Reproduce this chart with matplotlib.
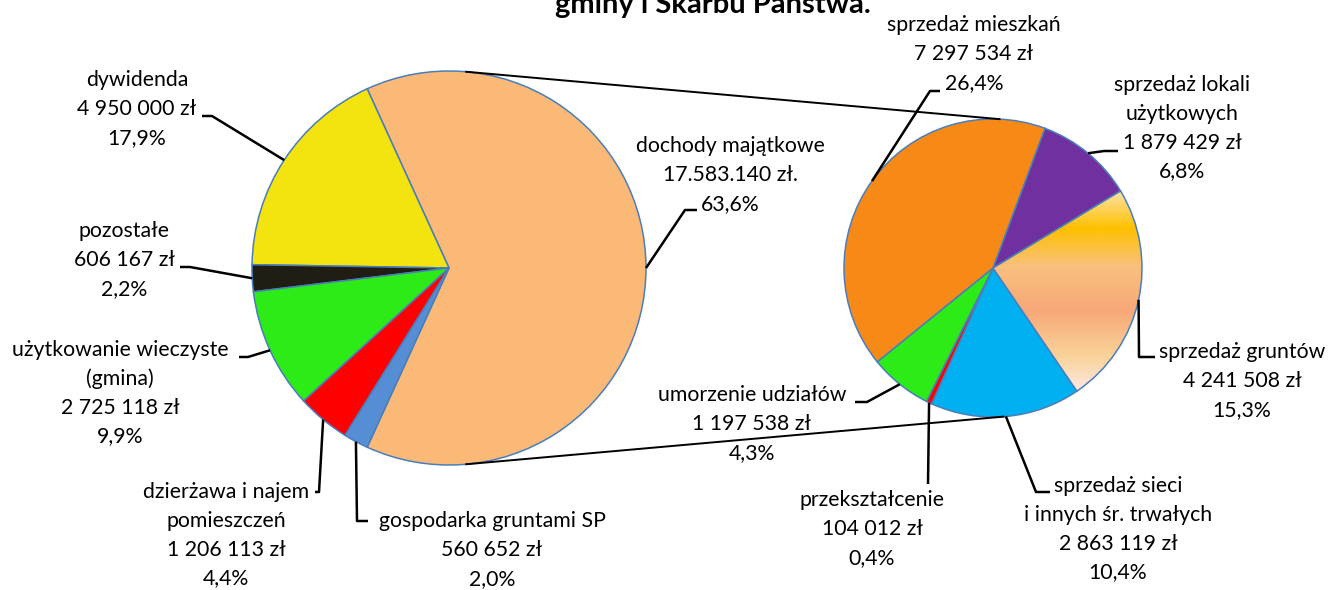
import numpy as np
import matplotlib
matplotlib.use('Agg')
import matplotlib.pyplot as plt
from matplotlib.colors import LinearSegmentedColormap

# ---------------- data ----------------
title_text = "gminy i Skarbu Państwa."

main_labels = ["dochody majątkowe", "dywidenda", "pozostałe",
               "użytkowanie wieczyste\n(gmina)", "dzierżawa i najem\npomieszczeń",
               "gospodarka gruntami SP"]
main_values = [17583140, 4950000, 606167, 2725118, 1206113, 560652]
main_value_text = ["17.583.140 zł.", "4 950 000 zł", "606 167 zł",
                   "2 725 118 zł", "1 206 113 zł", "560 652 zł"]
main_pct_text = ["63,6%", "17,9%", "2,2%", "9,9%", "4,4%", "2,0%"]
main_colors = ["#FBB978", "#F3E30F", "#201D12", "#2DEB17", "#FF0000", "#558ED5"]

sub_labels = ["sprzedaż lokali\nużytkowych", "sprzedaż gruntów",
              "sprzedaż sieci\ni innych śr. trwałych", "przekształcenie",
              "umorzenie udziałów", "sprzedaż mieszkań"]
sub_values = [1879429, 4241508, 2863119, 104012, 1197538, 7297534]
sub_value_text = ["1 879 429 zł", "4 241 508 zł", "2 863 119 zł",
                  "104 012 zł", "1 197 538 zł", "7 297 534 zł"]
sub_pct_text = ["6,8%", "15,3%", "10,4%", "0,4%", "4,3%", "26,4%"]
sub_colors = ["#7030A0", None, "#00B0F0", "#FF0000", "#2DEB17", "#F78A17"]

# gradient fill of "sprzedaż gruntów" (position from top, colour)
grad_stops = [(0.0, "#FCE3AA"), (0.19, "#FFC000"), (0.38, "#F9C07E"),
              (0.6, "#F7A878"), (0.83, "#FAD39A"), (1.0, "#FDE8E4")]

# ---------------- layout (pixel coords, y from top) ----------------
W, H = 1329, 590
FONT = "Lato"
FS = 15.3
LINE = 28.8

main_center = (449, 268)
main_r = 197
sub_center = (993, 268)
sub_r = 149
sub_start = 69.6

# label: (center x, first line center y, leader elbow, leader end)
main_layout = [
    (730, 146, (685, 210), (697, 210)),
    (137, 80, (212, 116), (202, 116)),
    (124, 231, (190, 267), (180, 267)),
    (120, 350, (248, 357), (239, 357)),
    (226, 492, (319, 492), (315, 492)),
    (492, 521, (357, 521), (368, 521)),
]
sub_layout = [
    (1182, 85, (1104, 151), (1118, 151)),
    (1242, 352, (1139, 357), (1155, 357)),
    (1118, 486, (1036, 492), (1050, 492)),
    (872, 500, (928, 484), (928, 484)),
    (752, 395, (867, 402), (855, 402)),
    (974, 25, (930, 91), (940, 91)),
]

def Y(y):
    return H - y

fig = plt.figure(figsize=(W / 100, H / 100), dpi=100)
ax = fig.add_axes([0, 0, 1, 1])

edge = dict(edgecolor="#4A7EBB", linewidth=1.1)

# main pie: combined slice centered on the right side
total = sum(main_values)
start_main = -main_values[0] / total * 360 / 2
w_main, _ = ax.pie(main_values, colors=main_colors, startangle=start_main,
                   counterclock=True, radius=main_r,
                   center=(main_center[0], Y(main_center[1])),
                   wedgeprops=edge)

sub_cols = [c if c is not None else "#F9C07E" for c in sub_colors]
w_sub, _ = ax.pie(sub_values, colors=sub_cols, startangle=sub_start,
                  counterclock=False, radius=sub_r,
                  center=(sub_center[0], Y(sub_center[1])),
                  wedgeprops=edge)

ax.set_xlim(0, W)
ax.set_ylim(0, H)
ax.set_aspect('auto')
ax.axis('off')

# gradient wedge
gw = w_sub[1]
th1, th2 = gw.theta1, gw.theta2
angs = np.linspace(th1, th2, 200)
ys = np.concatenate([Y(sub_center[1]) + sub_r * np.sin(np.radians(angs)), [Y(sub_center[1])]])
ytop, ybot = ys.max(), ys.min()
cmap = LinearSegmentedColormap.from_list("g", grad_stops)
grad = np.linspace(0, 1, 256).reshape(-1, 1)
im = ax.imshow(grad, cmap=cmap, aspect='auto', origin='upper',
               extent=(sub_center[0] - 5, sub_center[0] + sub_r + 5, ybot, ytop),
               zorder=gw.get_zorder() + 0.01)
im.set_clip_path(gw)
gw.set_facecolor('none')
gw.set_zorder(gw.get_zorder() + 0.02)
ax.set_xlim(0, W)
ax.set_ylim(0, H)

def mid_point(w, center, r):
    a = np.radians((w.theta1 + w.theta2) / 2)
    return center[0] + r * np.cos(a), Y(center[1]) + r * np.sin(a)

def draw_label(lines, cx, cy, wedge, center, r, elbow, end):
    for i, t in enumerate(lines):
        ax.text(cx, Y(cy + i * LINE + 6), t, ha='center', va='baseline',
                fontsize=FS, family=FONT, color='#000000', zorder=10)
    px, py = mid_point(wedge, center, r)
    ax.plot([px, elbow[0], end[0]], [py, Y(elbow[1]), Y(end[1])],
            color='black', lw=1.8, solid_capstyle='butt', zorder=9)

for i in range(len(main_values)):
    lines = main_labels[i].split("\n") + [main_value_text[i], main_pct_text[i]]
    cx, cy, el, en = main_layout[i]
    draw_label(lines, cx, cy, w_main[i], main_center, main_r, el, en)

for i in range(len(sub_values)):
    lines = sub_labels[i].split("\n") + [sub_value_text[i], sub_pct_text[i]]
    cx, cy, el, en = sub_layout[i]
    draw_label(lines, cx, cy, w_sub[i], sub_center, sub_r, el, en)

# connector lines between the pies
for a1, a2 in [(85, 87.5), (-85, -86)]:
    x1 = main_center[0] + main_r * np.cos(np.radians(a1))
    y1 = Y(main_center[1]) + main_r * np.sin(np.radians(a1))
    x2 = sub_center[0] + sub_r * np.cos(np.radians(a2))
    y2 = Y(sub_center[1]) + sub_r * np.sin(np.radians(a2))
    ax.plot([x1, x2], [y1, y2], color='black', lw=1.4, zorder=8)

ax.text(713, Y(13), title_text, ha='center', va='baseline', fontsize=21,
        fontweight='bold', family=FONT, color='#000000', zorder=10)

fig.savefig("out.png", dpi=100)
